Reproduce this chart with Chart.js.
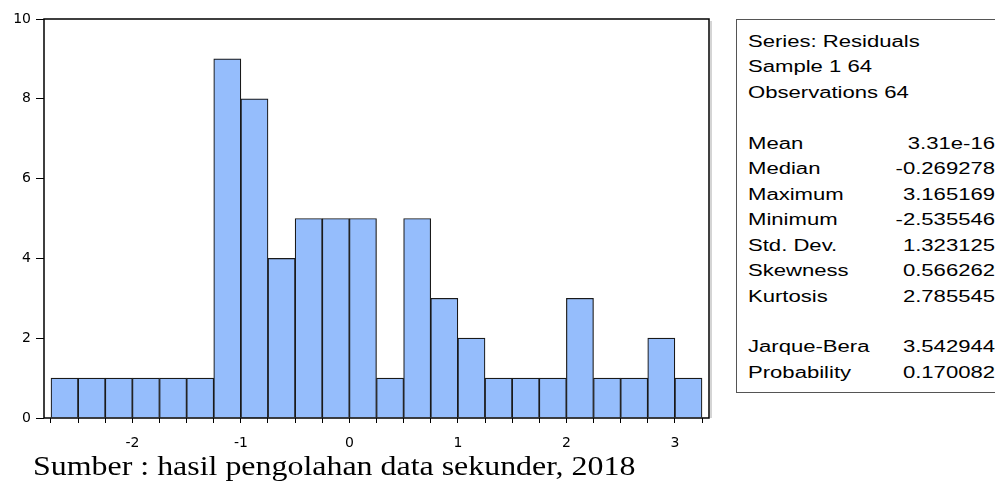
<!DOCTYPE html>
<html lang="en">
<head>
    <meta charset="UTF-8">
    <title>Histogram Residuals</title>
    <style>
        html, body { margin: 0; padding: 0; background: #fff; }
        body { width: 995px; height: 481px; position: relative; overflow: hidden; }
        #wrap { position: absolute; left: 0; top: 0; width: 720px; height: 455px; }
        #stats-box {
            position: absolute; left: 736px; top: 19px; width: 300px; height: 374px;
            border: 1.5px solid #555; border-right: none; box-sizing: border-box;
        }
        #stats {
            position: absolute; left: 748px; top: 29px; width: 179px;
            transform: scaleX(1.38); transform-origin: left top;
            font-family: "Liberation Sans", Arial, sans-serif; font-size: 16px; line-height: 25.46px;
            color: #000; white-space: nowrap;
        }
        #stats .row { display: flex; justify-content: space-between; height: 25.46px; }
        #caption {
            position: absolute; left: 33px; top: 450px;
            font-family: "Liberation Serif", "Times New Roman", serif; font-size: 28px;
            transform: scaleX(1.14); transform-origin: left top;
            color: #000; white-space: nowrap; line-height: 32px;
        }
    </style>
</head>
<body>
    <script src="https://cdn.jsdelivr.net/npm/chart.js@4/dist/chart.umd.min.js"></script>
    <div id="wrap"><canvas id="chart"></canvas></div>
    <div id="stats-box"></div>
    <div id="stats"></div>
    <div id="caption">Sumber : hasil pengolahan data sekunder, 2018</div>

    <script>
        // histogram bins (centre of each 0.25 wide bin) and counts
        const binCenters = [-2.625, -2.375, -2.125, -1.875, -1.625, -1.375, -1.125, -0.875, -0.625, -0.375, -0.125, 0.125,
                            0.375, 0.625, 0.875, 1.125, 1.375, 1.625, 1.875, 2.125, 2.375, 2.625, 2.875, 3.125];
        const counts = [1, 1, 1, 1, 1, 1, 9, 8, 4, 5, 5, 5, 1, 5, 3, 2, 1, 1, 1, 3, 1, 1, 2, 1];

        // bin edges get a small tick, integers get a label
        const xEdges = [-2.75, -2.5, -2.25, -2, -1.75, -1.5, -1.25, -1, -0.75, -0.5, -0.25, 0, 0.25,
                        0.5, 0.75, 1, 1.25, 1.5, 1.75, 2, 2.25, 2.5, 2.75, 3, 3.25];
        const xTickLabels = [-2, -1, 0, 1, 2, 3];
        const yTicks = [0, 2, 4, 6, 8, 10];

        const statLabels = ["Series: Residuals", "Sample 1 64", "Observations 64", "",
                            "Mean", "Median", "Maximum", "Minimum", "Std. Dev.", "Skewness", "Kurtosis", "",
                            "Jarque-Bera", "Probability"];
        const statValues = ["", "", "", "",
                            "3.31e-16", "-0.269278", "3.165169", "-2.535546", "1.323125", "0.566262", "2.785545", "",
                            "3.542944", "0.170082"];

        const statsEl = document.getElementById("stats");
        statLabels.forEach((lab, i) => {
            const row = document.createElement("div");
            row.className = "row";
            const a = document.createElement("span");
            a.textContent = lab;
            const b = document.createElement("span");
            b.textContent = statValues[i];
            row.appendChild(a);
            row.appendChild(b);
            statsEl.appendChild(row);
        });

        const tickFont = { family: "DejaVu Sans", size: 14 };

        const frame = {
            id: "frame",
            afterDraw(chart) {
                const { ctx, chartArea: a } = chart;
                ctx.save();
                ctx.strokeStyle = "#aaa";
                ctx.lineWidth = 1;
                ctx.beginPath();
                ctx.moveTo(a.right + 2, a.top + 2);
                ctx.lineTo(a.right + 2, a.bottom);
                ctx.stroke();
                ctx.strokeStyle = "#000";
                ctx.lineWidth = 1.5;
                ctx.strokeRect(a.left, a.top, a.right - a.left, a.bottom - a.top);
                ctx.restore();
            }
        };

        new Chart(document.getElementById("chart"), {
            type: "bar",
            data: {
                datasets: [{
                    data: binCenters.map((x, i) => ({ x: x, y: counts[i] })),
                    backgroundColor: "#95bdfc",
                    borderColor: "#1a1a1a",
                    borderWidth: 1.2,
                    barPercentage: 1,
                    categoryPercentage: 1
                }]
            },
            options: {
                maintainAspectRatio: false,
                responsive: true,
                animation: false,
                layout: { padding: { top: 19, right: 11, left: 0, bottom: 0 } },
                plugins: { legend: { display: false }, tooltip: { enabled: false } },
                scales: {
                    x: {
                        type: "linear",
                        offset: false,
                        min: -2.8145,
                        max: 3.3145,
                        border: { display: false },
                        grid: { display: true, offset: false, drawOnChartArea: false, drawTicks: true, tickLength: 5, color: "#000", lineWidth: 1 },
                        afterBuildTicks: s => { s.ticks = xEdges.map(v => ({ value: v })); },
                        afterFit: s => { s.height = 37; s.paddingLeft = 0; s.paddingRight = 0; },
                        ticks: {
                            autoSkip: false,
                            maxRotation: 0,
                            padding: 12,
                            color: "#000",
                            font: tickFont,
                            callback: v => xTickLabels.includes(v) ? String(v) : ""
                        }
                    },
                    y: {
                        min: 0,
                        max: 10,
                        border: { display: false },
                        grid: { display: true, drawOnChartArea: false, drawTicks: true, tickLength: 8, color: "#000", lineWidth: 1 },
                        afterBuildTicks: s => { s.ticks = yTicks.map(v => ({ value: v })); },
                        afterFit: s => { s.width = 44; s.paddingTop = 0; s.paddingBottom = 0; },
                        ticks: { padding: 5, color: "#000", font: tickFont }
                    }
                }
            },
            plugins: [frame]
        });
    </script>
</body>
</html>
